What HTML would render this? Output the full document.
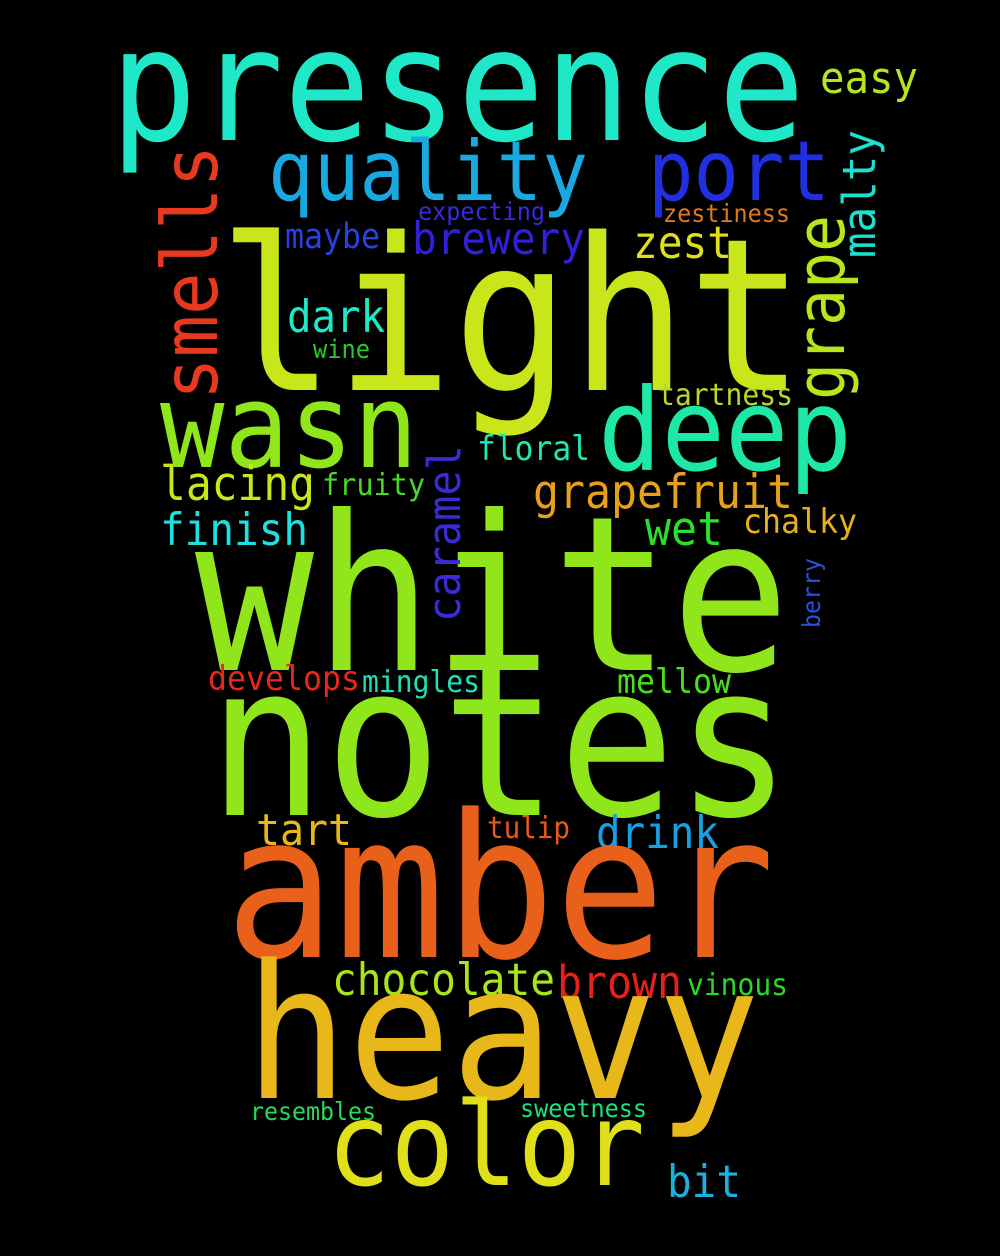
<!DOCTYPE html>
<html><head><meta charset="utf-8"><style>
html,body{margin:0;padding:0;background:#000}
svg{display:block}
text{font-family:"DejaVu Sans Mono","Liberation Mono",monospace}
</style></head><body>
<svg width="1000" height="1256" viewBox="0 0 1000 1256">
<rect width="1000" height="1256" fill="#000"/>
<g id="words"></g>
</svg>
<script>
const words = ["presence","easy","quality","port","expecting","zestiness","maybe","brewery","zest","light","dark","wine","tartness","wasn","deep","floral","lacing","fruity","grapefruit","finish","wet","chalky","white","develops","mingles","mellow","notes","tart","tulip","drink","amber","chocolate","brown","vinous","heavy","resembles","sweetness","color","bit","smells","malty","grape","caramel","berry"];
const xs = [110,820,268,648,418,663,285,412,633,218,287,313,658,160,598,477,160,322,533,160,645,743,195,208,362,617,208,256,487,596,225,332,557,687,245,250,520,327,667,217,875,844,460,820];
const ys = [140,93,200,200,220,222,248,254,258,390,332,358,405,467,470,460,500,495,508,545,545,533,670,690,692,693,815,845,838,848,957,995,998,995,1098,1120,1117,1185,1197,400,258,400,622,628];
const sizes = [144,40,76,76,23,23,32,41,41,195,41,24,28,107,105,31,43,28,43,41,43,31,198,31,28,31,194,40,28,41,183,41,42,28,171,23,23,106,41,70,42,61,42,23];
const spans = [695,98,320,182,127,127,95,173,99,587,98,57,135,258,254,113,155,103,260,148,78,114,595,152,118,114,584,96,83,123,550,223,125,101,515,126,127,318,74,255,128,185,177,70];
const colors = ["#1ee8c8","#b5e61d","#1aa8e0","#2030e0","#3a2ad8","#e07a1a","#2a40e0","#3020d8","#e0e01a","#c8e61a","#1de9c9","#2ac82a","#b8d82a","#8fe61a","#1ee8a8","#1de9b0","#c8e61a","#48d82a","#e8a01a","#1de0e0","#2ae02a","#e8b01a","#90e61a","#e8281a","#1de0b8","#48e01a","#8fe61a","#e8b81a","#e85a1a","#1aa0e0","#e8601a","#a8e61a","#e8201a","#2ad82a","#e8b81a","#2ad85a","#1de080","#e0e01a","#1ab0e0","#e8391f","#1de0d0","#b8e61a","#3a2ad8","#2a50e0"];
const vertical = [0,0,0,0,0,0,0,0,0,0,0,0,0,0,0,0,0,0,0,0,0,0,0,0,0,0,0,0,0,0,0,0,0,0,0,0,0,0,0,1,1,1,1,1];
const g = document.getElementById('words');
const NS = "http://www.w3.org/2000/svg";
words.forEach((w,i)=>{
  const t = document.createElementNS(NS,'text');
  
  
  t.setAttribute('font-size', (sizes[i]*1.09).toFixed(1));
  t.setAttribute('fill', colors[i]);
  t.setAttribute('textLength', spans[i]);
  t.setAttribute('lengthAdjust', 'spacingAndGlyphs');
  if (vertical[i]) {
    t.setAttribute('x', 0);
    t.setAttribute('y', 0);
    t.setAttribute('transform', 'translate(' + xs[i] + ',' + ys[i] + ') rotate(-90)');
  } else {
    t.setAttribute('x', xs[i]);
    t.setAttribute('y', ys[i]);
  }
  t.textContent = w;
  g.appendChild(t);
});
</script>
</body></html>
